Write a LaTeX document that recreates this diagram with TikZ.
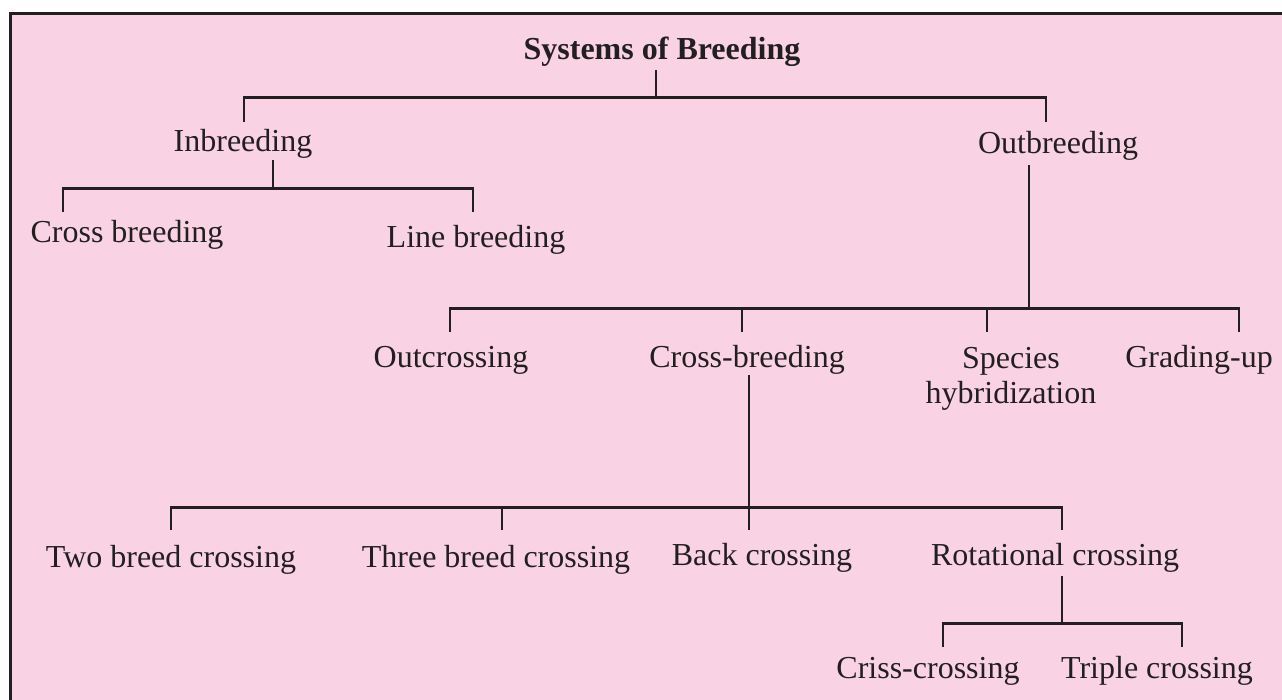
\documentclass[tikz,border=0pt]{standalone}
\usepackage{fontspec}
\setmainfont{Liberation Serif}
\usetikzlibrary{positioning}
\definecolor{chartpink}{RGB}{249,211,228}
\definecolor{ink}{RGB}{35,31,32}

\begin{document}
\begin{tikzpicture}[x=1pt, y=-1pt,
        txt/.style={anchor=base, inner sep=0pt, text=ink, text height=22pt, text depth=7pt,
            font=\fontsize{32}{35}\selectfont},
        branch/.style={draw=ink, line width=2.8pt}]
    \useasboundingbox (0,0) rectangle (1282,700);
    % pink panel, open at right and bottom
    \fill[chartpink] (10.5,13.5) rectangle (1282,700);
    \draw[ink, line width=3pt] (10.5,700) -- (10.5,13.5) -- (1282,13.5);

    \node[txt, font=\fontsize{32}{35}\selectfont\bfseries] (sys) at (662,60) {Systems of Breeding};
    \node[txt] (inb) at (243,152) {Inbreeding};
    \node[txt] (outb) at (1058,154) {Outbreeding};
    \node[txt] (crb) at (127,243) {Cross breeding};
    \node[txt] (lnb) at (476,248) {Line breeding};
    \node[txt] (outc) at (451,368) {Outcrossing};
    \node[txt] (crsb) at (747,368) {Cross-breeding};
    \node[anchor=north, inner sep=0pt, text=ink, align=center,
        font=\fontsize{32}{35}\selectfont] (spec) at (1011,347) {Species\\hybridization};
    \node[txt] (grad) at (1199,368) {Grading-up};
    \node[txt] (twob) at (171,567) {Two breed crossing};
    \node[txt] (thrb) at (496,567) {Three breed crossing};
    \node[txt] (back) at (762,565) {Back crossing};
    \node[txt] (rotc) at (1055,565) {Rotational crossing};
    \node[txt] (criss) at (928,678) {Criss-crossing};
    \node[txt] (trip) at (1157,678) {Triple crossing};

    % level 1
    \draw[branch] ([shift={(-6,3)}]sys.south) -- ++(0,27) coordinate (j1);
    \draw[branch] ([shift={(1,-8)}]inb.north) |- (j1) -| ([shift={(-12,-10)}]outb.north);
    % inbreeding
    \draw[branch] ([shift={(30,1)}]inb.south) -- ++(0,28) coordinate (j2);
    \draw[branch] ([shift={(-64,-9)}]crb.north) |- (j2) -| ([shift={(-3,-14)}]lnb.north);
    % outbreeding
    \draw[branch] ([shift={(-29,4)}]outb.south) -- ++(0,143) coordinate (j3);
    \draw[branch] ([shift={(-1,-14)}]outc.north) |- (j3) -| ([shift={(40,-14)}]grad.north);
    \foreach \n/\dx/\dy in {crsb/-5/-14, spec/-24/-15}
        \draw[branch] ([shift={(\dx,\dy)}]\n.north) |- (j3);
    % cross-breeding
    \draw[branch] ([shift={(2,0)}]crsb.south) -- ++(0,132) coordinate (j4);
    \draw[branch] ([shift={(0,-15)}]twob.north) |- (j4) -| ([shift={(7,-13)}]rotc.north);
    \draw[branch] ([shift={(6,-15)}]thrb.north) |- (j4);
    \draw[branch] (j4) -- ([shift={(-13,-13)}]back.north);
    % rotational crossing
    \draw[branch] ([shift={(7,4)}]rotc.south) -- ++(0,47) coordinate (j5);
    \draw[branch] ([shift={(15,-9)}]criss.north) |- (j5) -| ([shift={(25,-9)}]trip.north);
\end{tikzpicture}
\end{document}
